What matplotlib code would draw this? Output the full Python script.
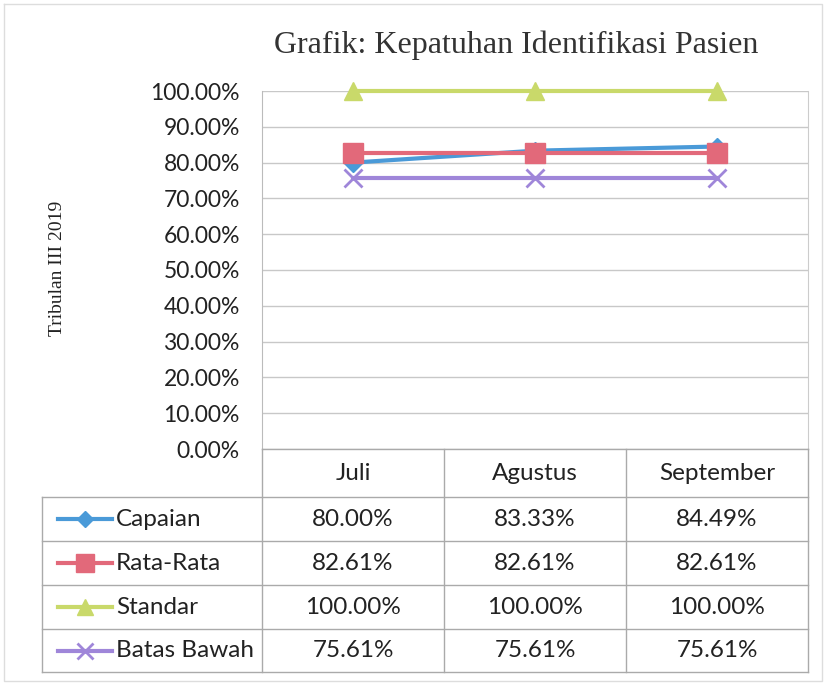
import matplotlib.pyplot as plt
from matplotlib.lines import Line2D

# data
months = ["Juli", "Agustus", "September"]
series_names = ["Capaian", "Rata-Rata", "Standar", "Batas Bawah"]
capaian = [0.8000, 0.8333, 0.8449]
rata_rata = [0.8261, 0.8261, 0.8261]
standar = [1.0000, 1.0000, 1.0000]
batas_bawah = [0.7561, 0.7561, 0.7561]
yticks = [i / 10 for i in range(11)]

series = [capaian, rata_rata, standar, batas_bawah]
colors = ["#4a9ad8", "#e2697a", "#c9d96a", "#9f86d9"]
markers = ["D", "s", "^", "x"]
msizes = [9, 14, 13, 13]

W, H = 826, 685
fig = plt.figure(figsize=(W / 100, H / 100), dpi=100)
sans = "Lato"
fs = 16.5

def px(x0, y0, x1, y1):
    return [x0 / W, 1 - y1 / H, (x1 - x0) / W, (y1 - y0) / H]

# main plot
ax = fig.add_axes(px(262, 91, 808, 449))
for vals, c, m, ms in zip(series, colors, markers, msizes):
    ax.plot(range(len(months)), vals, color=c, lw=3, marker=m, markersize=ms,
            markeredgewidth=2 if m == "x" else 1, markeredgecolor=c, zorder=3,
            clip_on=False)
ax.set_xlim(-0.5, len(months) - 0.5)
ax.set_ylim(0, 1)
ax.set_yticks(yticks)
ax.set_yticklabels([f"{v*100:.2f}%" for v in yticks], fontsize=fs, family=sans, color="#222222")
ax.tick_params(axis="y", length=0, pad=16)
ax.set_xticks([])
ax.grid(axis="y", color="#c8c8c8", lw=1)
for s in ["top", "bottom"]:
    ax.spines[s].set_visible(False)
ax.spines["left"].set_color("#bbbbbb")
ax.spines["right"].set_color("#cccccc")

fig.text(516 / W, 1 - 45 / H, "Grafik: Kepatuhan Identifikasi Pasien", ha="center", va="center",
         fontsize=23, family="Liberation Serif", color="#333333")
fig.text(57 / W, 1 - 268 / H, "Tribulan III 2019", rotation=90, ha="center", va="center",
         fontsize=14, family="Liberation Serif", color="#222222")

# data table below the plot
tab = fig.add_axes([0, 0, 1, 1])
tab.set_xlim(0, W)
tab.set_ylim(H, 0)
tab.axis("off")
line_c = "#aaaaaa"
col_x = [42, 262, 444, 626, 808]
row_y = [449, 497, 541, 585, 629, 672]
# header row
for j, m in enumerate(months):
    tab.text((col_x[j + 1] + col_x[j + 2]) / 2, (row_y[0] + row_y[1]) / 2, m,
             ha="center", va="center", fontsize=fs + 1, family=sans, color="#222222")
# grid lines
tab.plot([262, 808], [449, 449], color=line_c, lw=1)
for y in row_y[1:]:
    tab.plot([42, 808], [y, y], color=line_c, lw=1)
tab.plot([42, 42], [row_y[1], row_y[-1]], color=line_c, lw=1)
for x in col_x[1:]:
    tab.plot([x, x], [row_y[0], row_y[-1]], color=line_c, lw=1)
# series rows
for i, (name, vals) in enumerate(zip(series_names, series)):
    yc = (row_y[i + 1] + row_y[i + 2]) / 2
    c, m = colors[i], markers[i]
    tab.add_line(Line2D([58, 112], [yc, yc], color=c, lw=3))
    tab.plot([85], [yc], marker=m, color=c, markersize=msizes[i] - 1,
             markeredgewidth=2 if m == "x" else 1)
    tab.text(116, yc, name, ha="left", va="center", fontsize=fs + 1, family=sans, color="#222222")
    for j, v in enumerate(vals):
        tab.text((col_x[j + 1] + col_x[j + 2]) / 2, yc, f"{v*100:.2f}%",
                 ha="center", va="center", fontsize=fs + 1, family=sans, color="#222222")

# outer frame
tab.plot([4, 822, 822, 4, 4], [4, 4, 681, 681, 4], color="#dddddd", lw=1)

plt.savefig("out.png", dpi=100)
